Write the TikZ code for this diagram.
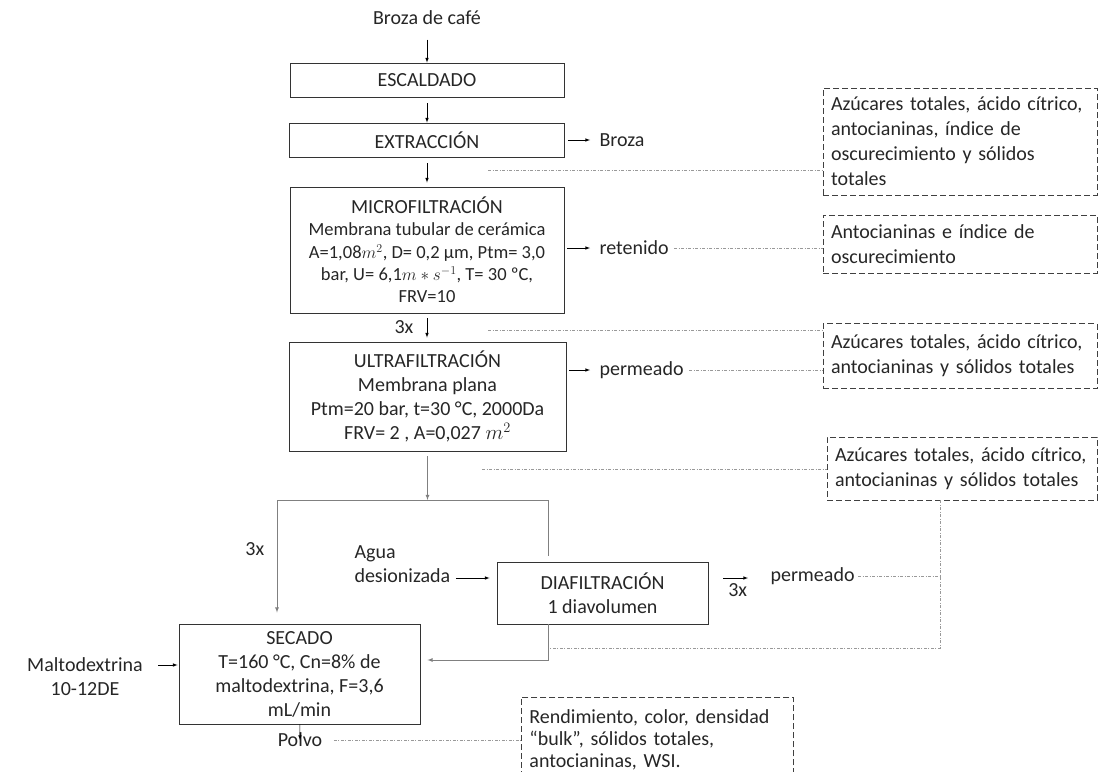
\documentclass[tikz,border=0pt]{standalone}
\usepackage{fontspec}
\setmainfont{Carlito}
\begin{document}
\begin{tikzpicture}[x=1pt,y=-1pt,
  font=\fontsize{20}{24}\selectfont, text=black!85,
  etapa/.style={draw=black!80,line width=0.9pt,align=center,inner sep=0pt},
  nota/.style={draw=black!75,line width=0.9pt,dash pattern=on 6pt off 3pt,align=left,inner xsep=8pt,inner ysep=0pt,font=\fontsize{20}{25}\selectfont},
  flujo/.style={draw=black,line width=0.6pt,->,>=latex},
  rama/.style={draw=black!50,line width=0.8pt},
  enlace/.style={draw=black!40,line width=0.6pt,dash pattern=on 3pt off 1.5pt on 1pt off 1.5pt}]
\useasboundingbox (0,0) rectangle (1100,771);
\clip (0,0) rectangle (1100,771);

% etapas
\node (entrada) at (427,18) {Broza de café};
\node[etapa,minimum width=274pt,minimum height=34pt] (escaldado) at (427,80) {ESCALDADO};
\node[etapa,minimum width=275pt,minimum height=34pt] (extraccion) at (427,140) {EXTRACCIÓN};
\node[etapa,minimum width=274pt,minimum height=126pt,font=\fontsize{18.5}{22.3}\selectfont] (micro) at (427,250)
  {{\fontsize{20}{22.3}\selectfont MICROFILTRACIÓN}\\Membrana tubular de cerámica\\A=1,08$m^2$, D= 0,2 µm, Ptm= 3,0\\bar, U= 6,1$m\ast s^{-1}$, T= 30 ºC,\\FRV=10};
\node[etapa,minimum width=277pt,minimum height=109pt] (ultra) at (427.5,396.5)
  {ULTRAFILTRACIÓN\\Membrana plana\\Ptm=20 bar, t=30 °C, 2000Da\\FRV= 2 , A=0,027 $m^2$};
\node[etapa,minimum width=211pt,minimum height=62pt] (diaf) at (602.5,593) {DIAFILTRACIÓN\\1 diavolumen};
\node[etapa,minimum width=241pt,minimum height=100pt] (secado) at (299.5,674)
  {SECADO\\T=160 °C, Cn=8\% de\\maltodextrina, F=3,6\\mL/min};

% entradas y salidas
\node[anchor=west] (broza) at (596,140) {Broza};
\node[anchor=west] (retenido) at (596,248) {retenido};
\node[anchor=west] (perm1) at (596,370) {permeado};
\node[anchor=west] (perm2) at (767,576) {permeado};
\node[align=left,anchor=west] (agua) at (351,564) {Agua\\desionizada};
\node[align=center] (malto) at (85,677) {Maltodextrina\\10-12DE};
\node (polvo) at (300,740) {Polvo};

% analisis
\node[nota,text width=258pt,minimum height=107pt] (nota1) at (960,141.5)
  {Azúcares totales, ácido cítrico,\\antocianinas, índice de\\oscurecimiento y sólidos\\totales};
\node[nota,text width=258pt,minimum height=58pt] (nota2) at (960,244) {Antocianinas e índice de\\oscurecimiento};
\node[nota,text width=258pt,minimum height=65pt] (nota3) at (960,356) {Azúcares totales, ácido cítrico,\\antocianinas y sólidos totales};
\node[nota,text width=254pt,minimum height=63pt] (nota4) at (962,468.5) {Azúcares totales, ácido cítrico,\\antocianinas y sólidos totales};
\node[nota,text width=256pt,minimum height=84pt,anchor=north west,font=\fontsize{20}{22}\selectfont] (nota5) at (521,697)
  {Rendimiento, color, densidad\\“bulk”, sólidos totales,\\antocianinas, WSI.};

\path[flujo,shorten <=11pt] (entrada) -- (escaldado);
\path[flujo,shorten <=6pt] (escaldado) -- (extraccion);
\path[flujo,shorten <=6pt,shorten >=4pt] (extraccion) -- (micro);
\path[flujo,shorten <=5pt,shorten >=4pt] (micro) -- node[left=10pt] {3x} (micro |- ultra.north);
\path[flujo,shorten <=3pt,shorten >=6pt] (extraccion.east |- broza) -- (broza);
\path[flujo,shorten <=3pt,shorten >=6pt] (micro.east |- retenido) -- (retenido);
\path[flujo,shorten <=3pt,shorten >=6pt] (ultra.east |- perm1) -- (perm1);

\coordinate (union) at (427.5,500);
\coordinate (izq) at (277,500);
\coordinate (der) at (548,500);
\coordinate (retorno) at (548,660);
\path[rama,->,>=latex,shorten <=5pt] (ultra) -- (union);
\path[rama] (izq) -- (der);
\path[rama,->,>=latex,shorten >=11pt] (izq) -- node[left=9pt,pos=0.4] {3x} (izq |- secado.north);
\path[rama,shorten >=6pt] (der) -- (der |- diaf.north);
\path[rama,->,>=latex,shorten >=7pt] (der |- diaf.south) -- (retorno) -- (retorno -| secado.east);

\path[flujo,shorten <=2pt,shorten >=7pt] ([yshift=-14pt]agua.east) -- ([yshift=-14pt]agua.east -| diaf.west);
\path[flujo,shorten <=15pt,shorten >=19pt] ([yshift=15pt]diaf.east) -- node[below=2pt] {3x} ([yshift=15pt]diaf.east -| perm2.west);
\path[flujo,shorten <=12pt,shorten >=1pt] ([yshift=12pt]malto.east) -- ([yshift=12pt]malto.east -| secado.west);
\path[flujo] (secado) -- (polvo.center);

\coordinate (c1) at (488,170);
\coordinate (c3) at (488,330);
\coordinate (c4) at (482,469);
\coordinate (c5) at (940,648);
\coordinate (c6) at (549,648);
\path[enlace] (c1) -- (c1 -| nota1.west);
\path[enlace,shorten <=2pt] (retenido.east) -- (retenido.east -| nota2.west);
\path[enlace] (c3) -- (c3 -| nota3.west);
\path[enlace,shorten <=2pt] (perm1.east) -- (perm1.east -| nota3.west);
\path[enlace] (c4) -- (c4 -| nota4.west);
\path[enlace] (perm2.east) -- (perm2.east -| c5);
\path[enlace] (c5 |- nota4.south) -- (c5) -- (c6);
\path[enlace,shorten <=8pt] (polvo.east) -- (polvo.east -| nota5.west);
\end{tikzpicture}
\end{document}
